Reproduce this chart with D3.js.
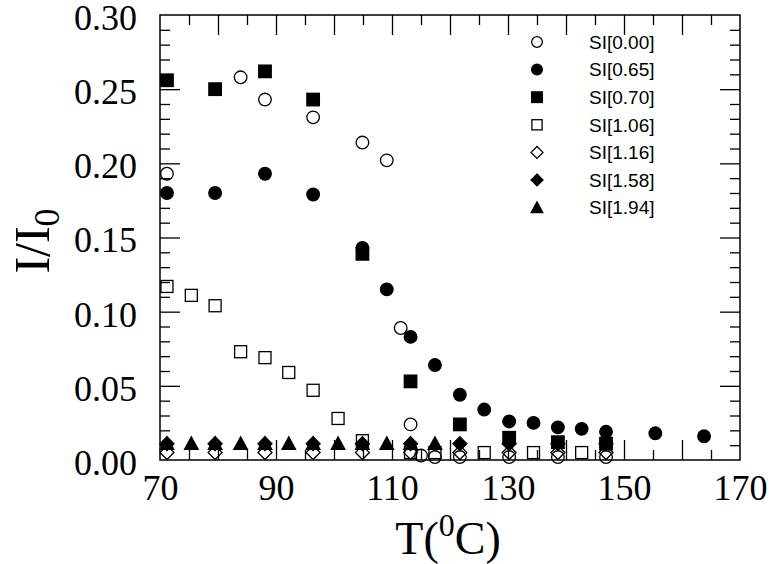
<!DOCTYPE html>
<html><head><meta charset="utf-8">
<script src="https://cdn.jsdelivr.net/npm/d3@7"></script>
<style>body{margin:0;background:#fff}svg{display:block}</style></head>
<body>
<svg id="c" width="769" height="564"></svg>
<script>
// ---- data ----
const seriesNames = ["SI[0.00]", "SI[0.65]", "SI[0.70]", "SI[1.06]", "SI[1.16]", "SI[1.58]", "SI[1.94]"];
const seriesShapes = ["circleOpen", "circleFilled", "squareFilled", "squareOpen", "diamondOpen", "diamondFilled", "triangleFilled"];

const t000 = [71.2, 83.9, 88.1, 96.4, 104.9, 109.1, 111.5, 113.2, 115.0, 117.4, 121.7, 130.2, 138.6, 146.9];
const v000 = [0.193, 0.258, 0.243, 0.231, 0.214, 0.202, 0.089, 0.024, 0.003, 0.002, 0.002, 0.002, 0.002, 0.002];

const t065 = [71.2, 79.5, 88.1, 96.4, 104.9, 109.1, 113.2, 117.4, 121.7, 125.9, 130.2, 134.4, 138.6, 142.7, 146.9, 155.4, 163.8];
const v065 = [0.180, 0.180, 0.193, 0.179, 0.143, 0.115, 0.083, 0.064, 0.044, 0.034, 0.026, 0.025, 0.022, 0.021, 0.019, 0.018, 0.016];

const t070 = [71.2, 79.5, 88.1, 96.4, 104.9, 113.2, 121.7, 130.2, 138.6, 146.9];
const v070 = [0.256, 0.250, 0.262, 0.243, 0.139, 0.053, 0.024, 0.015, 0.012, 0.011];

const t106 = [71.2, 75.4, 79.5, 83.9, 88.1, 92.2, 96.4, 100.7, 104.9, 113.2, 117.4, 125.9, 134.4, 142.7];
const v106 = [0.117, 0.111, 0.104, 0.073, 0.069, 0.059, 0.047, 0.028, 0.013, 0.005, 0.005, 0.005, 0.005, 0.005];

const t116 = [71.2, 79.5, 88.1, 96.4, 104.9, 113.2, 121.7, 130.2, 138.6, 146.9];
const v116 = [0.005, 0.005, 0.005, 0.005, 0.005, 0.005, 0.005, 0.005, 0.005, 0.005];

const t158 = [71.2, 79.5, 88.1, 96.4, 104.9, 113.2, 121.7, 130.2, 138.6, 146.9];
const v158 = [0.011, 0.011, 0.011, 0.011, 0.011, 0.011, 0.011, 0.011, 0.011, 0.011];

const t194 = [71.2, 75.4, 79.5, 83.9, 88.1, 92.2, 96.4, 100.7, 104.9, 109.1, 113.2, 117.4];
const v194 = [0.011, 0.011, 0.011, 0.011, 0.011, 0.011, 0.011, 0.011, 0.011, 0.011, 0.011, 0.011];

const xTickLabels = [70, 90, 110, 130, 150, 170];
const yTickLabels = [0.00, 0.05, 0.10, 0.15, 0.20, 0.25, 0.30];

const seriesT = [t000, t065, t070, t106, t116, t158, t194];
const seriesV = [v000, v065, v070, v106, v116, v158, v194];

// ---- layout ----
const L = 160, R = 740, T = 15, B = 460;
const svg = d3.select("#c");
const x = d3.scaleLinear().domain([70, 170]).range([L, R]);
const y = d3.scaleLinear().domain([0, 0.30]).range([B, T]);

const serif = "'Liberation Serif','Times New Roman',serif";
const sans = "'Liberation Sans',Arial,sans-serif";

// frame
svg.append("rect").attr("x", L).attr("y", T).attr("width", R - L).attr("height", B - T)
  .attr("fill", "none").attr("stroke", "#000").attr("stroke-width", 1.5);

function tickAxis(axisFn, scale, vals, size, transform) {
  const g = svg.append("g").attr("transform", transform)
    .call(axisFn(scale).tickValues(vals).tickSize(size).tickFormat(""));
  g.select(".domain").remove();
  g.selectAll("line").attr("stroke", "#000").attr("stroke-width", 1.3);
}
const xMajor = d3.range(80, 170, 10);
const xMinor = d3.range(75, 170, 10);
const yMajor = [0.05, 0.10, 0.15, 0.20, 0.25];
const yMinor = d3.range(1, 30).filter(i => i % 5 !== 0).map(i => i / 100);

tickAxis(d3.axisBottom, x, xMajor, -20, `translate(0,${B})`);
tickAxis(d3.axisBottom, x, xMinor, -10, `translate(0,${B})`);
tickAxis(d3.axisTop, x, xMajor, -20, `translate(0,${T})`);
tickAxis(d3.axisTop, x, xMinor, -10, `translate(0,${T})`);
tickAxis(d3.axisLeft, y, yMajor, -20, `translate(${L},0)`);
tickAxis(d3.axisLeft, y, yMinor, -10, `translate(${L},0)`);
tickAxis(d3.axisRight, y, yMajor, -20, `translate(${R},0)`);
tickAxis(d3.axisRight, y, yMinor, -10, `translate(${R},0)`);

// tick labels
const gx = svg.append("g").attr("transform", `translate(0,${B})`)
  .call(d3.axisBottom(x).tickValues(xTickLabels).tickSize(0).tickPadding(14).tickFormat(d3.format("d")));
gx.select(".domain").remove();
gx.selectAll("text").attr("font-family", serif).attr("font-size", 36).attr("fill", "#000");

const gy = svg.append("g").attr("transform", `translate(${L},0)`)
  .call(d3.axisLeft(y).tickValues(yTickLabels).tickSize(0).tickPadding(23).tickFormat(d3.format(".2f")));
gy.select(".domain").remove();
gy.selectAll("text").attr("font-family", serif).attr("font-size", 36).attr("fill", "#000").attr("dy", "0.4em");

// axis titles
const xt = svg.append("text").attr("x", 448).attr("y", 554).attr("text-anchor", "middle")
  .attr("font-family", serif).attr("font-size", 46).attr("fill", "#000");
xt.append("tspan").text("T(");
xt.append("tspan").attr("dy", -18).attr("font-size", 32).text("0");
xt.append("tspan").attr("dy", 18).text("C)");

const yt = svg.append("text").attr("transform", `translate(49,241) rotate(-90)`)
  .attr("text-anchor", "middle").attr("font-family", serif).attr("font-size", 50).attr("fill", "#000");
yt.append("tspan").text("I/I");
yt.append("tspan").attr("dy", 10).attr("font-size", 36).text("0");

// symbols
function drawSymbol(g, shape, cx, cy, k) {
  const filled = shape.endsWith("Filled");
  const fill = filled ? "#000" : "none";
  let el;
  if (shape.startsWith("circle")) {
    el = g.append("circle").attr("cx", cx).attr("cy", cy).attr("r", 6.3 * k);
  } else if (shape.startsWith("square")) {
    const s = (filled ? 12.5 : 12) * k;
    el = g.append("rect").attr("x", cx - s / 2).attr("y", cy - s / 2).attr("width", s).attr("height", s);
  } else if (shape.startsWith("diamond")) {
    const h = 7 * k;
    el = g.append("path").attr("d", `M${cx},${cy - h}L${cx + h},${cy}L${cx},${cy + h}L${cx - h},${cy}Z`);
  } else {
    const h = 6.8 * k;
    el = g.append("path").attr("d", `M${cx},${cy - h}L${cx + h},${cy + h * 0.85}L${cx - h},${cy + h * 0.85}Z`);
  }
  el.attr("fill", fill).attr("stroke", "#000").attr("stroke-width", 1.3);
}

const pts = svg.append("g");
seriesNames.forEach((name, i) => {
  seriesT[i].forEach((t, j) => drawSymbol(pts, seriesShapes[i], x(t), y(seriesV[i][j]), 1));
});

// legend
const lg = svg.append("g");
seriesNames.forEach((name, i) => {
  const ly = 42 + i * 27.6;
  drawSymbol(lg, seriesShapes[i], 537, ly, 0.85);
  lg.append("text").attr("x", 589).attr("y", ly).attr("dy", "0.36em")
    .attr("font-family", sans).attr("font-size", 19).attr("fill", "#000").text(name);
});
</script>
</body></html>
